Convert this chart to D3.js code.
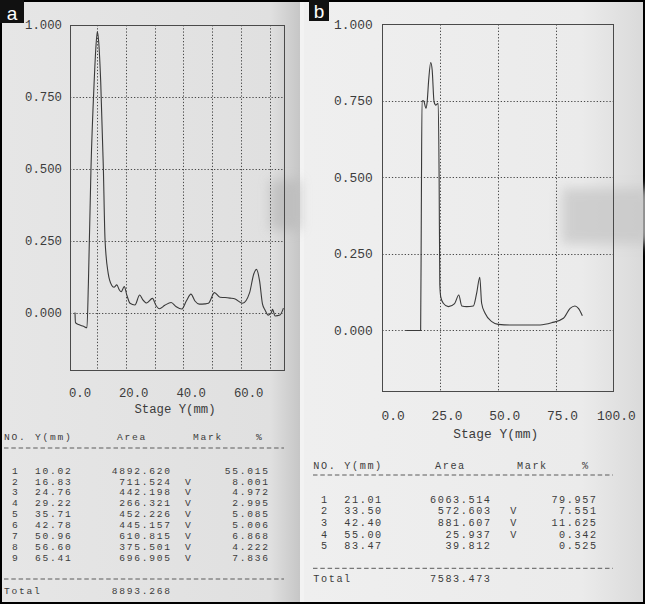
<!DOCTYPE html>
<html>
<head>
<meta charset="utf-8">
<title>Densitometry scans</title>
<script src="https://d3js.org/d3.v7.min.js"></script>
<style>
    body { margin: 0; background: #000; }
    svg { display: block; }
    .mono { font-family: "Liberation Mono", "DejaVu Sans Mono", monospace; fill: #3c3c3c; }
    .grid { stroke: #4a4a4a; stroke-width: 1; stroke-dasharray: 1.3, 1.9; }
    .frame { fill: none; stroke: #4a4a4a; stroke-width: 1; }
    .trace { fill: none; stroke: #3a3a3a; stroke-width: 1.1; }
    .dash { stroke: #5a5a5a; stroke-width: 1; stroke-dasharray: 4.5, 2.8; }
</style>
</head>
<body>
<svg width="645" height="604"></svg>
<script>
    // ---- panel a : profile (Stage Y in mm, optical density) ----
    var profileA_mm = [2.24, 2.4, 3.5, 5.2, 6.4, 6.9, 7.8, 8.9, 9.5, 10.02, 10.5, 11.2, 12.1, 12.7,
        13.8, 15.0, 15.8, 16.8, 17.6, 18.3, 19.4, 20.3, 21.4, 23.1, 24.76, 25.8, 27.2, 29.22,
        30.4, 31.6, 33.5, 35.71, 37.5, 39.4, 41.0, 42.6, 44.0, 45.5, 47.5, 48.7, 50.8, 52.7,
        54.5, 56.2, 58.0, 60.6, 63.0, 64.5, 65.41, 66.5, 67.5, 68.4, 69.5, 70.6, 71.0, 71.9,
        73.6, 74.8];
    var profileA_od = [0.0, -0.035, -0.042, -0.048, -0.053, 0.1, 0.5, 0.8, 0.92, 0.977, 0.94, 0.8, 0.507, 0.252,
        0.136, 0.095, 0.088, 0.096, 0.08, 0.072, 0.09, 0.06, 0.032, 0.026, 0.061, 0.045, 0.033, 0.049,
        0.025, 0.013, 0.025, 0.035, 0.02, 0.012, 0.04, 0.064, 0.04, 0.029, 0.03, 0.032, 0.069, 0.053,
        0.052, 0.05, 0.047, 0.032, 0.068, 0.135, 0.15, 0.11, 0.03, 0.009, -0.009, 0.0, 0.011, -0.012,
        -0.009, 0.015];

    // ---- panel b ----
    var profileB_mm = [10.3, 16.6, 16.9, 17.2, 17.9, 18.9, 19.4, 20.1, 20.95, 21.6, 22.4, 23.2, 24.2,
        24.6, 24.9, 25.3, 26.4, 28.6, 31.3, 33.1, 34.4, 36.5, 39.4, 40.8, 42.2, 43.0, 44.5, 47.4,
        50.2, 55.3, 62.0, 68.3, 73.3, 78.4, 81.3, 83.4, 84.9, 86.6];
    var profileB_od = [0.0, 0.0, 0.4, 0.75, 0.75, 0.726, 0.745, 0.82, 0.875, 0.85, 0.747, 0.736, 0.742,
        0.5, 0.15, 0.11, 0.089, 0.078, 0.088, 0.116, 0.08, 0.078, 0.08, 0.12, 0.174, 0.089, 0.056, 0.029,
        0.02, 0.018, 0.018, 0.018, 0.025, 0.04, 0.072, 0.08, 0.072, 0.048];

    // ---- axis ticks ----
    var yTicks = [0.0, 0.25, 0.5, 0.75, 1.0];
    var xTicksA = [0, 20, 40, 60];
    var xGridA = [10, 20, 30, 40, 50, 60, 70];
    var xTicksB = [0, 25, 50, 75, 100];
    var xGridB = [25, 50, 75];

    // ---- peak tables ----
    var peaksA_no = ["1", "2", "3", "4", "5", "6", "7", "8", "9"];
    var peaksA_y = ["10.02", "16.83", "24.76", "29.22", "35.71", "42.78", "50.96", "56.60", "65.41"];
    var peaksA_area = ["4892.620", "711.524", "442.198", "266.321", "452.226", "445.157", "610.815", "375.501", "696.905"];
    var peaksA_mark = ["", "V", "V", "V", "V", "V", "V", "V", "V"];
    var peaksA_pct = ["55.015", "8.001", "4.972", "2.995", "5.085", "5.006", "6.868", "4.222", "7.836"];
    var totalA = "8893.268";

    var peaksB_no = ["1", "2", "3", "4", "5"];
    var peaksB_y = ["21.01", "33.50", "42.40", "55.00", "83.47"];
    var peaksB_area = ["6063.514", "572.603", "881.607", "25.937", "39.812"];
    var peaksB_mark = ["", "V", "V", "V", ""];
    var peaksB_pct = ["79.957", "7.551", "11.625", "0.342", "0.525"];
    var totalB = "7583.473";

    var svg = d3.select("svg");

    // paper backgrounds
    var defs = svg.append("defs");
    var ga = defs.append("linearGradient").attr("id", "paperA");
    ga.append("stop").attr("offset", "0%").attr("stop-color", "#e6e6e6");
    ga.append("stop").attr("offset", "90%").attr("stop-color", "#e0e0e0");
    ga.append("stop").attr("offset", "100%").attr("stop-color", "#c6c6c6");
    var gb = defs.append("linearGradient").attr("id", "paperB");
    gb.append("stop").attr("offset", "0%").attr("stop-color", "#efefef");
    gb.append("stop").attr("offset", "82%").attr("stop-color", "#ebebeb");
    gb.append("stop").attr("offset", "100%").attr("stop-color", "#dadada");
    defs.append("filter").attr("id", "soft").attr("x", "-50%").attr("y", "-50%")
        .attr("width", "200%").attr("height", "200%")
        .append("feGaussianBlur").attr("stdDeviation", 6);

    svg.append("rect").attr("x", 2).attr("y", 2).attr("width", 641).attr("height", 600).attr("fill", "#f3f3f3");
    svg.append("rect").attr("x", 2).attr("y", 2).attr("width", 298).attr("height", 600).attr("fill", "url(#paperA)");
    svg.append("rect").attr("x", 304).attr("y", 2).attr("width", 339).attr("height", 600).attr("fill", "url(#paperB)");
    // scanner smudges
    svg.append("rect").attr("x", 562).attr("y", 188).attr("width", 90).attr("height", 56)
        .attr("fill", "#c8c8c8").attr("opacity", 0.8).attr("filter", "url(#soft)");
    svg.append("rect").attr("x", 270).attr("y", 180).attr("width", 30).attr("height", 50)
        .attr("fill", "#b8b8b8").attr("opacity", 0.7).attr("filter", "url(#soft)");

    function drawPanel(cfg) {
        var x = d3.scaleLinear().domain(cfg.xDomain).range([cfg.left, cfg.right]);
        var y = d3.scaleLinear().domain([-0.2, 1.0]).range([cfg.bottom, cfg.top]);
        var g = svg.append("g");

        // grid
        g.selectAll(".hgrid").data(yTicks.filter(function (d) { return d < 1; }))
            .enter().append("line").attr("class", "grid")
            .attr("x1", cfg.left).attr("x2", cfg.right)
            .attr("y1", function (d) { return Math.round(y(d)) + 0.5; })
            .attr("y2", function (d) { return Math.round(y(d)) + 0.5; });
        g.selectAll(".vgrid").data(cfg.xGrid)
            .enter().append("line").attr("class", "grid")
            .attr("y1", cfg.top).attr("y2", cfg.bottom)
            .attr("x1", function (d) { return Math.round(x(d)) + 0.5; })
            .attr("x2", function (d) { return Math.round(x(d)) + 0.5; });

        g.append("rect").attr("class", "frame")
            .attr("x", Math.round(cfg.left) + 0.5).attr("y", Math.round(cfg.top) + 0.5)
            .attr("width", Math.round(cfg.right - cfg.left)).attr("height", Math.round(cfg.bottom - cfg.top));

        // y labels
        g.selectAll(".ylab").data(yTicks).enter().append("text")
            .attr("class", "mono").style("font-size", cfg.font + "px")
            .attr("text-anchor", "end")
            .attr("x", cfg.yLabelX).attr("y", function (d) { return y(d); })
            .attr("dy", "0.35em")
            .text(function (d) { return d.toFixed(3); });

        // x labels (printer puts them right of the tick)
        g.selectAll(".xlab").data(cfg.xTicks).enter().append("text")
            .attr("class", "mono").style("font-size", cfg.font + "px")
            .attr("text-anchor", "end")
            .attr("x", function (d) { return x(d) + 22.5; })
            .attr("y", cfg.xLabelY).attr("dy", "0.35em")
            .text(function (d) { return d.toFixed(1); });

        g.append("text").attr("class", "mono").style("font-size", cfg.font + "px")
            .attr("text-anchor", "middle")
            .attr("x", cfg.titleX).attr("y", cfg.titleY).attr("dy", "0.35em")
            .text("Stage Y(mm)");

        // trace
        var pts = cfg.mm.map(function (d, i) { return [d, cfg.od[i]]; });
        var line = d3.line()
            .x(function (d) { return x(d[0]); })
            .y(function (d) { return y(d[1]); })
            .curve(d3.curveMonotoneX);
        g.append("path").attr("class", "trace").attr("d", line(pts));

        // table: small thin print with wide character pitch
        var t = cfg.table;
        function txt(s, xx, yy, anchor) {
            var shift = anchor === "end" ? t.ls : (anchor === "middle" ? t.ls / 2 : 0);
            g.append("text").attr("class", "mono").style("font-size", t.font + "px")
                .style("letter-spacing", t.ls + "px")
                .attr("text-anchor", anchor).attr("x", xx + shift).attr("y", yy).attr("dy", "0.35em")
                .text(s);
        }
        txt("NO.", t.noHead, t.headY, "start");
        txt("Y(mm)", t.yCol, t.headY, "start");
        txt("Area", t.areaHead, t.headY, "start");
        txt("Mark", t.markHead, t.headY, "start");
        txt("%", t.pctHead, t.headY, "middle");
        [t.dash1, t.dash2].forEach(function (dy) {
            g.append("line").attr("class", "dash")
                .attr("x1", t.dashL).attr("x2", t.dashR)
                .attr("y1", dy).attr("y2", dy);
        });
        t.no.forEach(function (n, i) {
            var yy = t.row0 + i * t.rowH;
            txt(n, t.noCol, yy, "middle");
            txt(t.ys[i], t.yCol, yy, "start");
            txt(t.area[i], t.areaCol, yy, "end");
            txt(t.mark[i], t.markCol, yy, "middle");
            txt(t.pct[i], t.pctCol, yy, "end");
        });
        txt("Total", t.noHead, t.totalY, "start");
        txt(t.total, t.areaCol, t.totalY, "end");
    }

    drawPanel({
        xDomain: [0.5, 75], left: 70, right: 284, top: 25, bottom: 370,
        xGrid: xGridA, xTicks: xTicksA, font: 12.3,
        yLabelX: 62, xLabelY: 392.7, titleX: 175, titleY: 408.3,
        mm: profileA_mm, od: profileA_od,
        table: {
            font: 9.6, ls: 1.74, headY: 437, dash1: 448, dash2: 579, dashL: 4, dashR: 284,
            row0: 470.3, rowH: 10.9, totalY: 590.7,
            noHead: 4, noCol: 15, yCol: 35, areaHead: 117, areaCol: 170,
            markHead: 193, markCol: 188, pctHead: 259, pctCol: 268,
            no: peaksA_no, ys: peaksA_y, area: peaksA_area, mark: peaksA_mark, pct: peaksA_pct, total: totalA
        }
    });

    drawPanel({
        xDomain: [0, 100], left: 382.3, right: 613.3, top: 24.3, bottom: 391.7,
        xGrid: xGridB, xTicks: xTicksB, font: 12.9,
        yLabelX: 372.7, xLabelY: 415.7, titleX: 495.7, titleY: 433.7,
        mm: profileB_mm, od: profileB_od,
        table: {
            font: 10.2, ls: 1.58, headY: 465, dash1: 475, dash2: 568.3, dashL: 313, dashR: 613,
            row0: 499.3, rowH: 11.6, totalY: 578.3,
            noHead: 313.3, noCol: 324, yCol: 344.3, areaHead: 435, areaCol: 490,
            markHead: 517, markCol: 513.3, pctHead: 585, pctCol: 596,
            no: peaksB_no, ys: peaksB_y, area: peaksB_area, mark: peaksB_mark, pct: peaksB_pct, total: totalB
        }
    });

    // panel letters
    [{ s: "a", x: 0, w: 24, h: 23 }, { s: "b", x: 309, w: 20, h: 21 }].forEach(function (p) {
        svg.append("rect").attr("x", p.x).attr("y", 0).attr("width", p.w).attr("height", p.h).attr("fill", "#111");
        svg.append("text").attr("x", p.x + p.w / 2).attr("y", p.h - 3)
            .attr("text-anchor", "middle").attr("fill", "#fff")
            .style("font-family", "'Liberation Sans', Arial, sans-serif").style("font-size", "19px")
            .text(p.s);
    });
</script>
</body>
</html>
